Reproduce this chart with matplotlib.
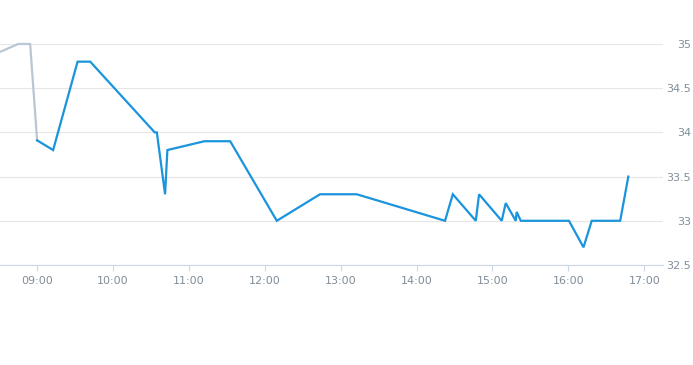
import matplotlib
matplotlib.use("Agg")
import matplotlib.pyplot as plt
import matplotlib.dates as mdates
import pandas as pd

# pre-open (grey) part of the session
pre_times = ["08:30:40", "08:45:00", "08:54:30", "09:00:00"]
pre_values = [34.91, 35.0, 35.0, 33.91]

# regular session (blue)
times = ["09:00:00", "09:12:40", "09:32:00", "09:42:00", "10:33:00", "10:34:40",
         "10:41:10", "10:43:00", "11:12:15", "11:32:40", "12:09:30", "12:43:40",
         "13:12:45", "14:22:30", "14:28:40", "14:46:50", "14:49:25", "15:07:20",
         "15:10:30", "15:18:25", "15:19:10", "15:22:25", "16:00:30", "16:12:00",
         "16:18:30", "16:41:00", "16:47:25"]
values = [33.91, 33.8, 34.8, 34.8, 34.0, 34.0,
          33.3, 33.8, 33.9, 33.9, 33.0, 33.3,
          33.3, 33.0, 33.3, 33.0, 33.3, 33.0,
          33.2, 33.0, 33.1, 33.0, 33.0, 32.7,
          33.0, 33.0, 33.5]

y_ticks = [32.5, 33, 33.5, 34, 34.5, 35]
y_labels = ["32.5", "33", "33.5", "34", "34.5", "35"]

day = "2024-01-02 "
pre_t = pd.to_datetime([day + t for t in pre_times])
t = pd.to_datetime([day + s for s in times])

fig = plt.figure(figsize=(6.93, 3.65), dpi=100)
ax = fig.add_axes([0.0, 0.274, 0.957, 0.6055])

ax.plot(pre_t, pre_values, color="#b8c7d3", linewidth=1.6, clip_on=False,
        solid_joinstyle="miter")
ax.plot(t, values, color="#1a94dc", linewidth=1.6, clip_on=False,
        solid_joinstyle="miter")

ax.set_xlim(pd.Timestamp(day + "08:30:40"), pd.Timestamp(day + "17:15:00"))
ax.set_ylim(32.5, 35)

ax.yaxis.tick_right()
ax.set_yticks(y_ticks)
ax.set_yticklabels(y_labels)
# labels right-aligned ~28 px right of the plot area
ax.tick_params(axis="y", length=0, pad=20, labelsize=8, labelcolor="#808d9a")
for lbl in ax.get_yticklabels():
    lbl.set_horizontalalignment("right")

ax.xaxis.set_major_locator(mdates.HourLocator())
ax.xaxis.set_major_formatter(mdates.DateFormatter("%H:%M"))
ax.tick_params(axis="x", length=4, width=0.8, color="#ccd6eb", pad=4,
               labelsize=8, labelcolor="#808d9a")

ax.grid(axis="y", color="#e6e6e6", linewidth=0.8)
ax.set_axisbelow(True)
for side in ["top", "left", "right"]:
    ax.spines[side].set_visible(False)
ax.spines["bottom"].set_color("#ccd6eb")
ax.spines["bottom"].set_linewidth(0.8)

fig.savefig("out.png", dpi=100, facecolor="white")
